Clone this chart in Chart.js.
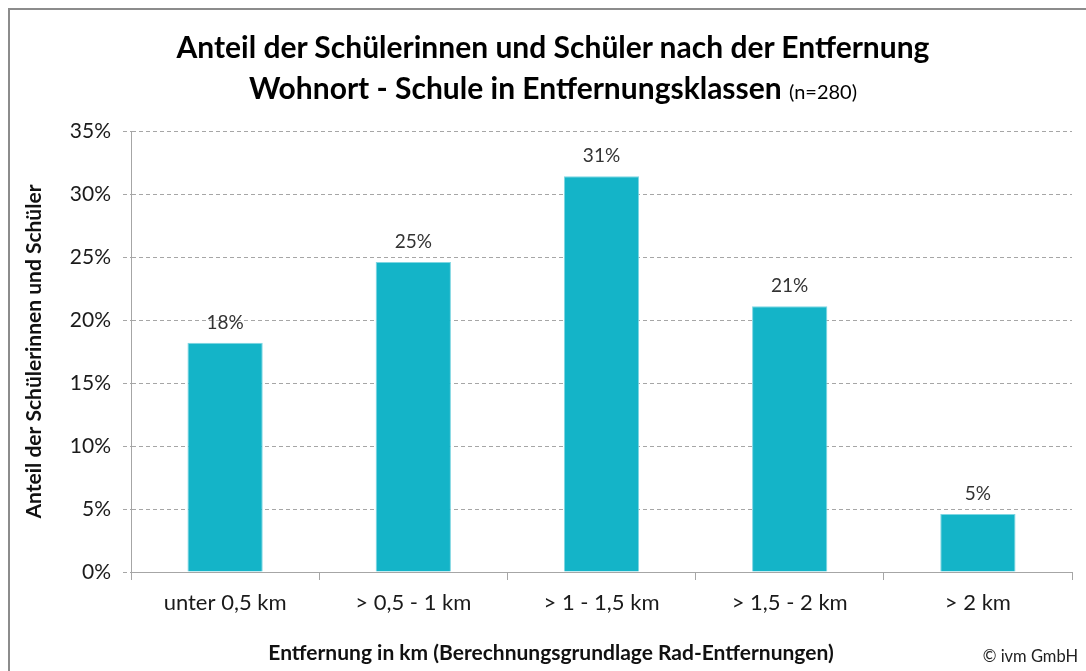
<!DOCTYPE html>
<html>
<head>
<meta charset="utf-8">
<script src="https://cdn.jsdelivr.net/npm/chart.js@4"></script>
<style>
	html, body { margin: 0; padding: 0; background: #fff; }
	#wrap { position: relative; width: 1086px; height: 671px; overflow: hidden; }
	#frame { position: absolute; left: 8px; top: 8px; width: 1200px; height: 800px;
		border-top: 2px solid #8c8c8c; border-left: 2px solid #8c8c8c; }
	#title { position: absolute; left: 10px; top: 26px; width: 1086px; text-align: center;
		font-family: Lato, sans-serif; font-weight: bold; font-size: 30px; line-height: 41px; color: #000; }
	#title span { font-weight: normal; font-size: 20px; }
	#xTitle { position: absolute; left: 8px; top: 639px; width: 1086px; text-align: center;
		font-family: Lato, sans-serif; font-weight: bold; font-size: 21px; color: #111; }
	#copy { position: absolute; right: 8px; top: 646px; font-family: Lato, sans-serif;
		font-size: 16.5px; color: #222; }
	canvas { position: absolute; left: 0; top: 0; }
</style>
</head>
<body>
<div id="wrap">
	<div id="frame"></div>
	<canvas id="barChart" width="1086" height="671"></canvas>
	<div id="title">Anteil der Schülerinnen und Schüler nach der Entfernung<br>Wohnort - Schule in Entfernungsklassen <span>(n=280)</span></div>
	<div id="xTitle">Entfernung in km (Berechnungsgrundlage Rad-Entfernungen)</div>
	<div id="copy">© ivm GmbH</div>
</div>
<script>
// chart data
const categories = ["unter 0,5 km", "> 0,5 - 1 km", "> 1 - 1,5 km", "> 1,5 - 2 km", "> 2 km"];
const shares = [18.2, 24.6, 31.4, 21.1, 4.6];
const yTicks = [0, 5, 10, 15, 20, 25, 30, 35];

// value labels above the bars
const barLabels = {
	id: "barLabels",
	afterDatasetsDraw(chart) {
		const ctx = chart.ctx;
		ctx.save();
		ctx.font = "19px Lato, sans-serif";
		ctx.fillStyle = "#333";
		ctx.textAlign = "center";
		ctx.textBaseline = "middle";
		chart.getDatasetMeta(0).data.forEach((bar, i) => {
			ctx.fillText(Math.round(shares[i]) + "%", bar.x, bar.y - 20);
		});
		ctx.restore();
	},
};

document.addEventListener("DOMContentLoaded", function () {
	new Chart("barChart", {
		type: "bar",
		data: {
			labels: categories,
			datasets: [
				{
					data: shares,
					backgroundColor: "#14b4c8",
					borderColor: "#7fd6e2",
					borderWidth: 1,
					categoryPercentage: 1,
					barPercentage: 0.4,
				},
			],
		},
		options: {
			responsive: false,
			animation: false,
			layout: {
				padding: { top: 131, right: 14, left: 0, bottom: 0 },
			},
			plugins: {
				legend: { display: false },
				tooltip: { enabled: false },
			},
			scales: {
				x: {
					grid: {
						display: true,
						offset: true,
						drawOnChartArea: false,
						drawTicks: true,
						tickLength: 8,
						color: "#a6a6a6",
					},
					border: { color: "#a6a6a6", width: 1 },
					ticks: {
						padding: 10,
						color: "#1a1a1a",
						font: { family: "Lato, sans-serif", size: 22 },
					},
					afterFit(scale) {
						scale.height = 99; // room for the axis title below
					},
				},
				y: {
					min: 0,
					max: 35,
					afterBuildTicks(scale) {
						scale.ticks = yTicks.map((v) => ({ value: v }));
					},
					grid: {
						color: "#a6a6a6",
						tickLength: 8,
						tickBorderDash: [4, 3],
					},
					border: { color: "#a6a6a6", width: 1, dash: [4, 3] },
					ticks: {
						padding: 12,
						color: "#1a1a1a",
						font: { family: "Lato, sans-serif", size: 21 },
						callback: (v) => v + "%",
					},
					title: {
						display: true,
						text: "Anteil der Schülerinnen und Schüler",
						color: "#111",
						font: { family: "Lato, sans-serif", size: 21, weight: "bold" },
						padding: { top: 22, bottom: 0 },
					},
					afterFit(scale) {
						scale.width = 131;
					},
				},
			},
		},
		plugins: [barLabels],
	});
});
</script>
</body>
</html>
